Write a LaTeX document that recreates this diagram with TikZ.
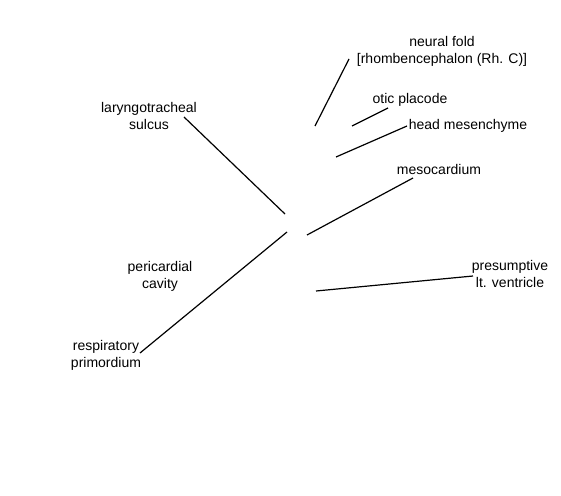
\documentclass[tikz,border=0pt]{standalone}
\usepackage{fontspec}
\setmainfont{Liberation Sans}
\begin{document}
\begin{tikzpicture}[x=1pt,y=-1pt,
  lbl/.style={align=center,inner sep=0pt,font=\fontsize{14}{17}\selectfont},
  lead/.style={draw=black,line width=1.2pt}]
\useasboundingbox (0,0) rectangle (561,495);
\node[lbl] (nf) at (442,51) {neural fold\\{}[rhombencephalon (Rh. C)]};
\node[lbl] (op) at (410,100) {otic placode};
\node[lbl] (hm) at (468,126) {head mesenchyme};
\node[lbl] (mc) at (439,169) {mesocardium};
\node[lbl] (pv) at (510,274) {presumptive\\lt. ventricle};
\node[lbl] (ls) at (149,116) {laryngotracheal\\sulcus};
\node[lbl] (pc) at (160,276) {pericardial\\cavity};
\node[lbl] (rp) at (106,355) {respiratory\\primordium};
\coordinate (nfa) at (349,59);  \coordinate (nfb) at (315,126);
\coordinate (opa) at (388,108); \coordinate (opb) at (352,126);
\coordinate (hma) at (407,126); \coordinate (hmb) at (336,157);
\coordinate (lsa) at (184,117); \coordinate (lsb) at (285,214);
\coordinate (rpa) at (140,353); \coordinate (rpb) at (287,232);
\coordinate (mca) at (413,178); \coordinate (mcb) at (307,235);
\coordinate (pva) at (473,276); \coordinate (pvb) at (316,291);
\draw[lead] (nfa) -- (nfb);
\draw[lead] (opa) -- (opb);
\draw[lead] (hma) -- (hmb);
\draw[lead] (lsa) -- (lsb);
\draw[lead] (rpa) -- (rpb);
\draw[lead] (mca) -- (mcb);
\draw[lead] (pva) -- (pvb);
\end{tikzpicture}
\end{document}
